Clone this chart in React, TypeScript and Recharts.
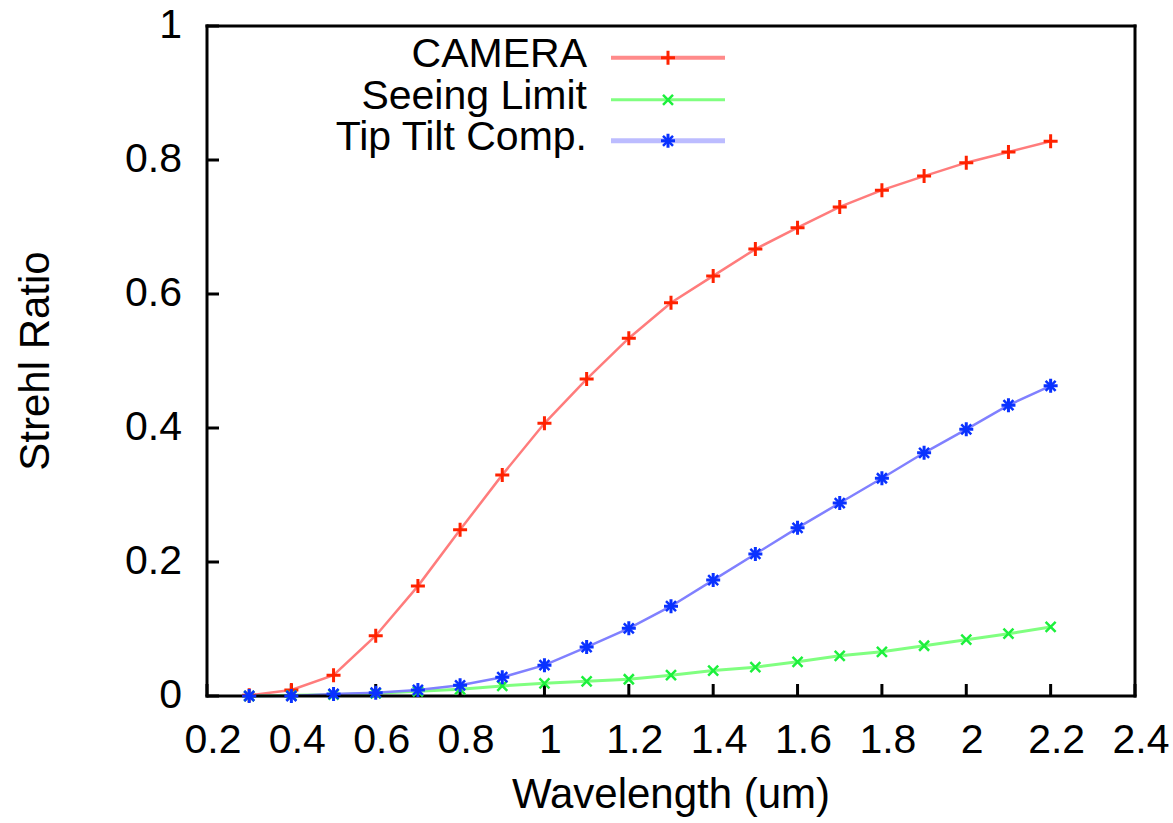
import React from 'react'
import { LineChart, Line, XAxis, YAxis, Legend } from 'recharts'

// wavelength in um
const wavelengths = [0.3, 0.4, 0.5, 0.6, 0.7, 0.8, 0.9, 1.0, 1.1, 1.2, 1.3, 1.4, 1.5, 1.6, 1.7, 1.8, 1.9, 2.0, 2.1, 2.2]
const camera = [0.001, 0.009, 0.031, 0.09, 0.164, 0.248, 0.33, 0.407, 0.473, 0.534, 0.587, 0.627, 0.667, 0.699, 0.73, 0.755, 0.776, 0.796, 0.812, 0.828]
const seeingLimit = [0.0, 0.001, 0.002, 0.004, 0.007, 0.01, 0.015, 0.019, 0.022, 0.025, 0.031, 0.038, 0.043, 0.051, 0.06, 0.066, 0.075, 0.084, 0.093, 0.103]
const tipTilt = [0.0, 0.0, 0.003, 0.005, 0.009, 0.016, 0.028, 0.046, 0.073, 0.101, 0.134, 0.173, 0.212, 0.251, 0.288, 0.325, 0.363, 0.398, 0.434, 0.463]

const xTicks = [0.2, 0.4, 0.6, 0.8, 1, 1.2, 1.4, 1.6, 1.8, 2, 2.2, 2.4]
const yTicks = [0, 0.2, 0.4, 0.6, 0.8, 1]

const data = wavelengths.map((w, i) => ({
  w,
  camera: camera[i],
  seeing: seeingLimit[i],
  tiptilt: tipTilt[i],
}))

const font = '"Liberation Sans", Arial, sans-serif'

type MarkerProps = { cx?: number; cy?: number; color: string }

function PlusMark({ cx = 0, cy = 0, color }: MarkerProps) {
  return <path d={`M${cx - 7},${cy}h14M${cx},${cy - 7}v14`} stroke={color} strokeWidth={3} fill="none" />
}

function CrossMark({ cx = 0, cy = 0, color }: MarkerProps) {
  return <path d={`M${cx - 5},${cy - 5}L${cx + 5},${cy + 5}M${cx - 5},${cy + 5}L${cx + 5},${cy - 5}`} stroke={color} strokeWidth={2.5} fill="none" />
}

function StarMark({ cx = 0, cy = 0, color }: MarkerProps) {
  return (
    <g>
      <path d={`M${cx - 7},${cy}h14M${cx},${cy - 7}v14`} stroke={color} strokeWidth={3} fill="none" />
      <path d={`M${cx - 5},${cy - 5}L${cx + 5},${cy + 5}M${cx - 5},${cy + 5}L${cx + 5},${cy - 5}`} stroke={color} strokeWidth={2.5} fill="none" />
    </g>
  )
}

const series = [
  { key: 'camera', name: 'CAMERA', line: '#ff7c7c', legendLine: '#ff8a8a', legendWidth: 4, width: 2.5, mark: '#ff2200', Marker: PlusMark },
  { key: 'seeing', name: 'Seeing Limit', line: '#80ff80', legendLine: '#80ff80', legendWidth: 3, width: 3, mark: '#1cf03c', Marker: CrossMark },
  { key: 'tiptilt', name: 'Tip Tilt Comp.', line: '#8080ff', legendLine: '#bcbcff', legendWidth: 5, width: 2.5, mark: '#0a32ff', Marker: StarMark },
]

function KeyBox() {
  return (
    <div style={{ fontFamily: font, fontSize: 41, color: '#000' }}>
      {series.map((s) => (
        <div key={s.key} style={{ display: 'flex', alignItems: 'center', height: 41.7 }}>
          <span style={{ width: 287, textAlign: 'right', lineHeight: '41.7px', position: 'relative', top: -4, whiteSpace: 'nowrap' }}>
            {s.name}
          </span>
          <svg width={138} height={41.7} style={{ display: 'block' }}>
            <line x1={24} x2={138} y1={20.85} y2={20.85} stroke={s.legendLine} strokeWidth={s.legendWidth} />
            <s.Marker cx={81} cy={20.85} color={s.mark} />
          </svg>
        </div>
      ))}
    </div>
  )
}

export default function App() {
  const frame = { stroke: '#000', strokeWidth: 3, strokeLinecap: 'square' as const }
  return (
    <div style={{ position: 'absolute', left: 0, top: 0, background: '#fff' }}>
      <LineChart width={1173} height={823} data={data} margin={{ top: 26, right: 38, left: 0, bottom: 0 }}>
        <XAxis
          dataKey="w"
          type="number"
          domain={[0.2, 2.4]}
          ticks={xTicks}
          interval={0}
          height={127}
          axisLine={frame}
          tickLine={{ stroke: '#000', strokeWidth: 3 }}
          tickSize={-12}
          tickMargin={40}
          tick={{ fontSize: 41, fill: '#000', fontFamily: font, dx: 6 }}
          label={{ value: 'Wavelength (um)', position: 'insideBottom', offset: 15, style: { fontSize: 42, fill: '#000', fontFamily: font } }}
        />
        <XAxis
          xAxisId="top"
          orientation="top"
          mirror
          dataKey="w"
          type="number"
          domain={[0.2, 2.4]}
          ticks={xTicks}
          interval={0}
          axisLine={frame}
          tickLine={{ stroke: '#000', strokeWidth: 3 }}
          tickSize={12}
          tick={false}
        />
        <YAxis
          type="number"
          domain={[0, 1]}
          ticks={yTicks}
          interval={0}
          width={207}
          axisLine={frame}
          tickLine={{ stroke: '#000', strokeWidth: 3 }}
          tickSize={-12}
          tickMargin={37}
          tick={{ fontSize: 41, fill: '#000', fontFamily: font, dy: -3 }}
          label={{ value: 'Strehl Ratio', angle: -90, position: 'insideLeft', offset: 34, style: { textAnchor: 'middle', fontSize: 42, fill: '#000', fontFamily: font } }}
        />
        <YAxis
          yAxisId="right"
          orientation="right"
          mirror
          type="number"
          domain={[0, 1]}
          ticks={yTicks}
          interval={0}
          axisLine={frame}
          tickLine={{ stroke: '#000', strokeWidth: 3 }}
          tickSize={12}
          tick={false}
        />
        <Legend
          layout="vertical"
          align="center"
          verticalAlign="middle"
          wrapperStyle={{ left: 300, top: 37, width: 430 }}
          content={() => <KeyBox />}
        />
        {series.map((s) => (
          <Line
            key={s.key}
            type="linear"
            dataKey={s.key}
            name={s.name}
            stroke={s.line}
            strokeWidth={s.width}
            isAnimationActive={false}
            activeDot={false}
            dot={(p: any) => <s.Marker key={p.key ?? `${s.key}-${p.index}`} cx={p.cx} cy={p.cy} color={s.mark} />}
          />
        ))}
      </LineChart>
    </div>
  )
}
